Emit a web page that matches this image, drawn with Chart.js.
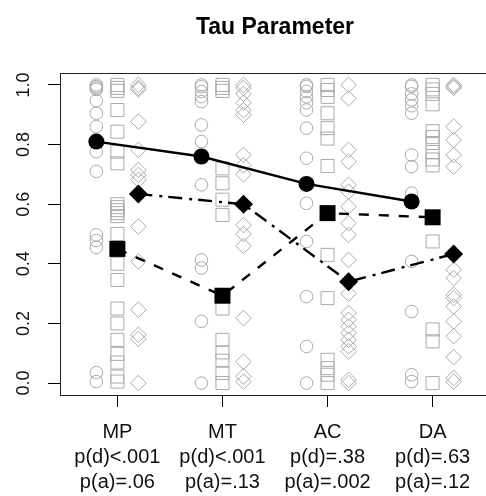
<!DOCTYPE html>
<html><head><meta charset="utf-8">
<script src="https://cdn.jsdelivr.net/npm/chart.js@4"></script>
<style>
html,body{margin:0;padding:0;overflow:hidden;background:#fff;width:486px;height:496px;}
#wrap{position:absolute;left:0;top:0;width:490px;height:496px;}
</style></head><body>
<div id="wrap"><canvas id="c" width="490" height="496"></canvas></div>
<script>
const categories = ['MP', 'MT', 'AC', 'DA'];
const pD = ['p(d)<.001', 'p(d)<.001', 'p(d)=.38', 'p(d)=.63'];
const pA = ['p(a)=.06', 'p(a)=.13', 'p(a)=.002', 'p(a)=.12'];
const xTickValues = [1, 2, 3, 4];
const yTickValues = [0, 0.2, 0.4, 0.6, 0.8, 1.0];
const yTickLabels = ['0.0', '0.2', '0.4', '0.6', '0.8', '1.0'];

// group means (filled black markers)
const meanCircle = [0.81, 0.76, 0.668, 0.609];
const meanSquare = [0.45, 0.293, 0.57, 0.556];
const meanDiamond = [0.634, 0.60, 0.34, 0.433];

// individual values (open grey markers)
const circMP = [1.0, 0.995, 0.99, 0.985, 0.947, 0.905, 0.86, 0.81, 0.776, 0.71, 0.497, 0.478, 0.455, 0.035, 0.005];
const circMT = [1.0, 0.994, 0.978, 0.961, 0.944, 0.866, 0.81, 0.665, 0.413, 0.386, 0.207, 0.0];
const circAC = [1.0, 0.995, 0.978, 0.96, 0.94, 0.916, 0.855, 0.754, 0.603, 0.475, 0.29, 0.123, 0.0];
const circDA = [1.0, 0.995, 0.97, 0.95, 0.93, 0.905, 0.765, 0.726, 0.637, 0.408, 0.24, 0.028, 0.005];

const sqMP = [1.0, 0.99, 0.98, 0.916, 0.843, 0.776, 0.737, 0.60, 0.59, 0.58, 0.57, 0.56, 0.50, 0.40, 0.346, 0.25, 0.20, 0.145, 0.098, 0.069, 0.022, 0.005];
const sqMT = [1.0, 0.99, 0.98, 0.72, 0.67, 0.615, 0.564, 0.293, 0.25, 0.145, 0.103, 0.075, 0.034, 0.0];
const sqAC = [1.0, 0.983, 0.96, 0.905, 0.855, 0.82, 0.728, 0.43, 0.285, 0.078, 0.05, 0.028, 0.0];
const sqDA = [1.0, 0.985, 0.97, 0.935, 0.845, 0.825, 0.805, 0.775, 0.75, 0.73, 0.475, 0.18, 0.14, 0.0];

const diaMP = [1.0, 0.99, 0.985, 0.877, 0.782, 0.715, 0.698, 0.682, 0.525, 0.408, 0.246, 0.162, 0.148, 0.0];
const diaMT = [1.0, 0.99, 0.97, 0.94, 0.915, 0.9, 0.765, 0.73, 0.70, 0.53, 0.50, 0.46, 0.218, 0.072, 0.022, 0.005];
const diaAC = [1.0, 0.955, 0.782, 0.743, 0.665, 0.642, 0.592, 0.536, 0.497, 0.413, 0.30, 0.235, 0.212, 0.19, 0.168, 0.145, 0.123, 0.106, 0.011, 0.0];
const diaDA = [1.0, 0.995, 0.99, 0.86, 0.815, 0.765, 0.726, 0.38, 0.352, 0.296, 0.285, 0.257, 0.207, 0.157, 0.087, 0.017, 0.005];

const FONT = "'Liberation Sans', Arial, Helvetica, sans-serif";
const GREY = '#aaaaaa';
const OFF = { circle: -0.2, rect: 0, rectRot: 0.2 };

function spread(groups, offset) {
  const out = [];
  groups.forEach((vals, i) => vals.forEach(v => out.push({ x: xTickValues[i] + offset, y: v })));
  return out;
}
function means(vals, offset) {
  return vals.map((v, i) => ({ x: xTickValues[i] + offset, y: v }));
}
function greySet(groups, style, r) {
  return {
    data: spread(groups, OFF[style]), showLine: false, pointStyle: style, pointRadius: r,
    pointBorderColor: GREY, pointBackgroundColor: 'rgba(0,0,0,0)', pointBorderWidth: 1, order: 2, clip: false
  };
}
function meanSet(vals, style, r, dash) {
  return {
    data: means(vals, OFF[style]), showLine: true, borderColor: '#000', borderWidth: 2.4, borderDash: dash,
    tension: 0, pointStyle: style, pointRadius: r, pointBackgroundColor: '#000', pointBorderColor: '#000',
    pointBorderWidth: 0, order: 0, clip: false
  };
}

const boxPlugin = {
  id: 'box',
  beforeDatasetsDraw(chart) {
    const { ctx, chartArea: a } = chart;
    ctx.save();
    ctx.strokeStyle = '#222';
    ctx.lineWidth = 1;
    ctx.strokeRect(Math.round(a.left) + 0.5, Math.round(a.top) + 0.5, Math.round(a.right - a.left), Math.round(a.bottom - a.top));
    ctx.restore();
  }
};

new Chart(document.getElementById('c'), {
  type: 'scatter',
  data: {
    datasets: [
      meanSet(meanCircle, 'circle', 8, []),
      meanSet(meanSquare, 'rect', 11.3, [10, 10]),
      meanSet(meanDiamond, 'rectRot', 9.5, [14, 7, 3, 6]),
      greySet([circMP, circMT, circAC, circDA], 'circle', 6.3),
      greySet([sqMP, sqMT, sqAC, sqDA], 'rect', 9.2),
      greySet([diaMP, diaMT, diaAC, diaDA], 'rectRot', 7.8)
    ]
  },
  options: {
    responsive: false,
    animation: false,
    events: [],
    layout: { padding: 0, autoPadding: false },
    plugins: {
      legend: { display: false },
      tooltip: { enabled: false },
      title: {
        display: true, text: 'Tau Parameter', color: '#000', fullSize: false,
        font: { family: FONT, size: 23, weight: 'bold', lineHeight: 1.2 },
        padding: { top: 14, bottom: 31.4 }
      }
    },
    scales: {
      x: {
        type: 'linear', min: 0.454, max: 4.546,
        afterFit(s) { s.height = 101; s.paddingLeft = 0; s.paddingRight = 0; },
        afterBuildTicks(s) { s.ticks = xTickValues.map(v => ({ value: v })); },
        grid: { display: true, drawOnChartArea: false, drawTicks: true, tickLength: 12, tickColor: '#000', tickWidth: 1 },
        border: { display: false },
        ticks: {
          autoSkip: false, minRotation: 0, maxRotation: 0, padding: 13, color: '#111',
          font: { family: FONT, size: 20, lineHeight: 1.25 },
          callback: (v, i) => [categories[i], pD[i], pA[i]]
        }
      },
      y: {
        type: 'linear', min: -0.04, max: 1.04,
        afterFit(s) { s.width = 60; s.paddingTop = 0; s.paddingBottom = 0; },
        afterBuildTicks(s) { s.ticks = yTickValues.map(v => ({ value: v })); },
        grid: { display: true, drawOnChartArea: false, drawTicks: true, tickLength: 12, tickColor: '#000', tickWidth: 1 },
        border: { display: false },
        ticks: {
          autoSkip: false, minRotation: 90, maxRotation: 90, crossAlign: 'center', padding: 11, color: '#111',
          font: { family: FONT, size: 18 },
          callback: (v, i) => yTickLabels[i]
        }
      }
    }
  },
  plugins: [boxPlugin]
});
</script>
</body></html>
